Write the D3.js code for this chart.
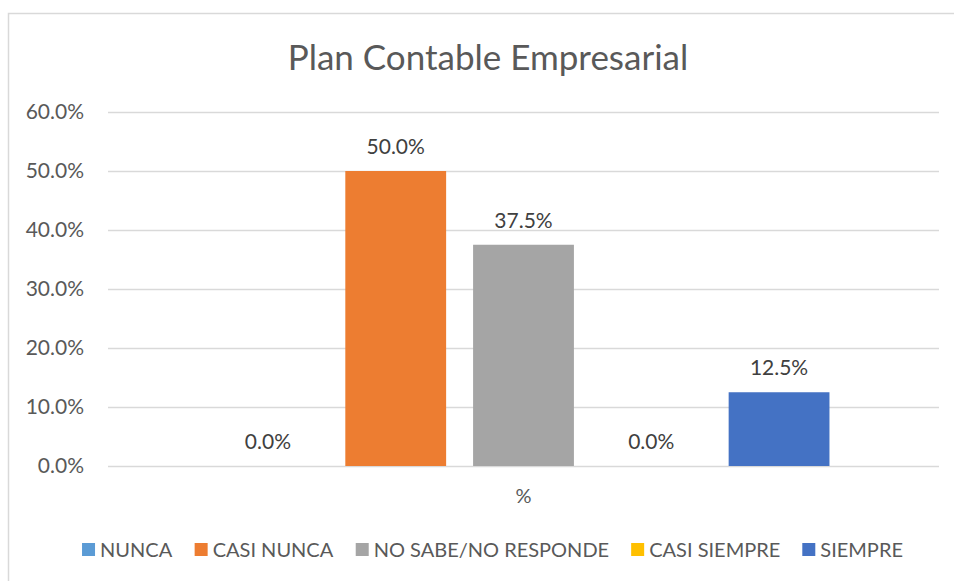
<!DOCTYPE html>
<html>
<head>
<meta charset="utf-8">
<script src="https://cdn.jsdelivr.net/npm/d3@7"></script>
<style>
  body { margin: 0; background: #fff; }
  svg { display: block; font-family: Lato, "Open Sans", sans-serif; }
</style>
</head>
<body>
<div id="chart"></div>
<script>
// data
const title = "Plan Contable Empresarial";
const category = ["%"];
const series = ["NUNCA", "CASI NUNCA", "NO SABE/NO RESPONDE", "CASI SIEMPRE", "SIEMPRE"];
const values = [0.0, 0.5, 0.375, 0.0, 0.125];
const colors = ["#5B9BD5", "#ED7D31", "#A5A5A5", "#FFC000", "#4472C4"];
const yTicks = [0, 0.1, 0.2, 0.3, 0.4, 0.5, 0.6];

const width = 954, height = 581;
const margin = { top: 112, right: 15, bottom: 115, left: 108 };

const svg = d3.select("#chart")
  .append("svg")
  .attr("width", width)
  .attr("height", height);

// chart border
svg.append("rect")
   .attr("x", 8.5)
   .attr("y", 13.5)
   .attr("width", 960)
   .attr("height", 600)
   .attr("fill", "#fff")
   .attr("stroke", "#d9d9d9")
   .attr("stroke-width", 1.5);

// title
svg.append("text")
   .attr("x", 488)
   .attr("y", 70)
   .attr("text-anchor", "middle")
   .attr("fill", "#595959")
   .style("font-size", "35px")
   .text(title);

const yScale = d3.scaleLinear()
                 .domain([0, 0.6])
                 .range([height - margin.bottom, margin.top]);

const x0 = d3.scaleBand()
             .domain(category)
             .range([margin.left, width - margin.right])
             .paddingOuter(0.179);

const x1 = d3.scaleBand()
             .domain(series)
             .range([0, x0.bandwidth()])
             .paddingInner(0.211);

// gridlines
svg.append("g")
   .selectAll("line")
   .data(yTicks)
   .enter()
   .append("line")
   .attr("x1", margin.left)
   .attr("x2", width - margin.right)
   .attr("y1", d => Math.round(yScale(d)) + 0.5)
   .attr("y2", d => Math.round(yScale(d)) + 0.5)
   .attr("stroke", "#d9d9d9")
   .attr("stroke-width", 1.5);

// y axis labels
const yAxis = d3.axisLeft(yScale)
                .tickValues(yTicks)
                .tickFormat(d3.format(".1%"))
                .tickSize(0)
                .tickPadding(24);

const gy = svg.append("g")
   .attr("transform", `translate(${margin.left},0)`)
   .call(yAxis);
gy.select(".domain").remove();
gy.selectAll("text")
  .attr("fill", "#595959")
  .style("font-size", "21px")
  .style("font-family", "Lato, 'Open Sans', sans-serif");

// bars
const bars = svg.append("g")
  .attr("transform", `translate(${x0(category[0])},0)`);

bars.selectAll("rect")
    .data(values)
    .enter()
    .append("rect")
    .attr("x", (d, i) => x1(series[i]))
    .attr("y", d => yScale(d))
    .attr("width", x1.bandwidth())
    .attr("height", d => yScale(0) - yScale(d))
    .attr("fill", (d, i) => colors[i]);

// data labels
bars.selectAll("text")
    .data(values)
    .enter()
    .append("text")
    .attr("x", (d, i) => x1(series[i]) + x1.bandwidth() / 2)
    .attr("y", d => yScale(d) - 17)
    .attr("text-anchor", "middle")
    .attr("fill", "#404040")
    .style("font-size", "21px")
    .text(d => d3.format(".1%")(d));

// category axis label
const xAxis = d3.axisBottom(x0).tickSize(0).tickPadding(23);
const gx = svg.append("g")
   .attr("transform", `translate(0,${yScale(0)})`)
   .call(xAxis);
gx.select(".domain").remove();
gx.selectAll("text")
  .attr("fill", "#595959")
  .style("font-size", "20px")
  .style("font-family", "Lato, 'Open Sans', sans-serif");

// legend
const legend = svg.append("g").attr("transform", "translate(0,550)");
const items = legend.selectAll("g")
  .data(series)
  .enter()
  .append("g");

items.append("rect")
     .attr("width", 13)
     .attr("height", 13)
     .attr("y", -7)
     .attr("fill", (d, i) => colors[i]);

items.append("text")
     .attr("x", 18)
     .attr("y", 7)
     .attr("fill", "#595959")
     .style("font-size", "20px")
     .text(d => d);

let pos = 0;
const gap = 22;
const widths = [];
items.each(function() {
  widths.push(this.getBBox().width);
});
const total = d3.sum(widths) + gap * (series.length - 1);
let start = 492.5 - total / 2;
items.attr("transform", (d, i) => {
  const t = `translate(${start + pos},0)`;
  pos += widths[i] + gap;
  return t;
});
</script>
</body>
</html>
